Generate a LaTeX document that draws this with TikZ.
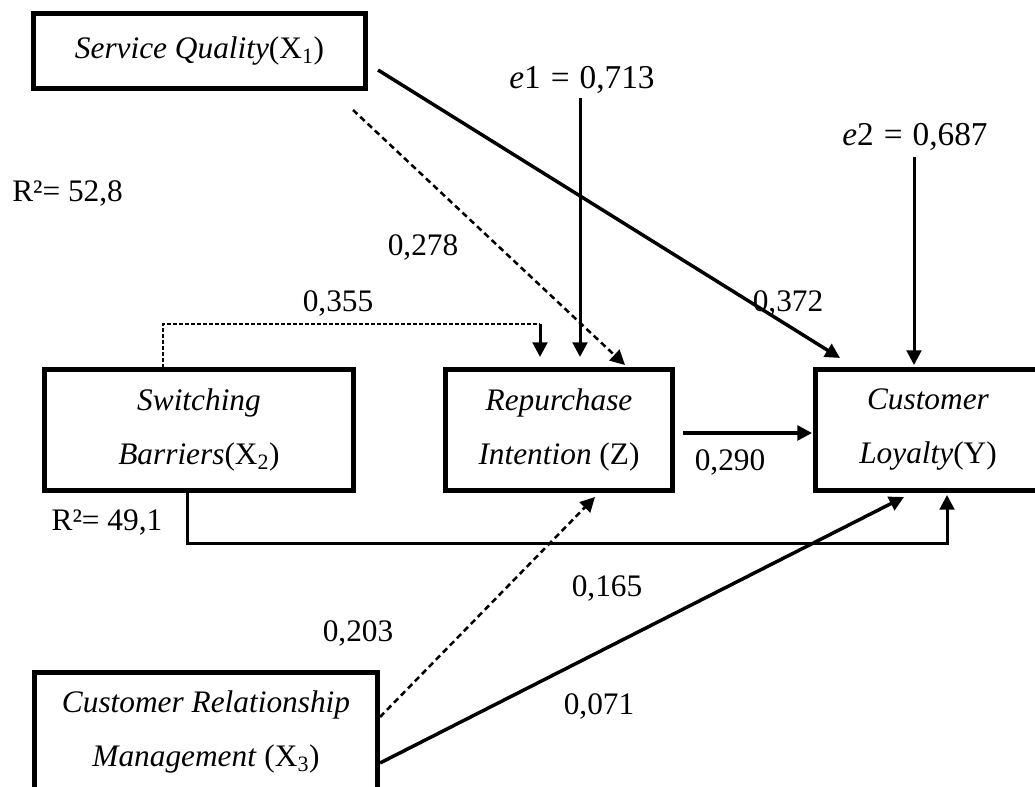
\documentclass[tikz,border=0pt]{standalone}
\usepackage{fontspec}
\setmainfont{Liberation Serif}
\usetikzlibrary{arrows.meta}
\begin{document}
\begin{tikzpicture}[x=0.75pt,y=-0.75pt,
  box/.style={draw, line width=3.75pt, align=center, inner sep=0pt, font=\fontsize{23.5}{40.5}\selectfont},
  lbl/.style={inner sep=0pt, font=\fontsize{23.5}{28}\selectfont},
  elbl/.style={inner sep=0pt, font=\fontsize{25}{30}\selectfont},
  tip/.style={-{Triangle[length=11pt,width=11pt]}},
  con/.style={tip, line width=2.6pt},
  vcon/.style={tip, line width=2.25pt},
  dcon/.style={tip, line width=1.9pt, dash pattern=on 4.5pt off 3pt},
  thindash/.style={line width=0.9pt, dash pattern=on 3pt off 1.5pt},
]
\useasboundingbox (0,0) rectangle (1035,787);
\clip (0,0) rectangle (1035,787);

% boxes
\node[box, minimum width=249pt, minimum height=56.25pt] (sq) at (199.5,51)
  {\textit{Service Quality}(X\textsubscript{1})};
\node[box, minimum width=231.75pt, minimum height=90.75pt] (sb) at (199,430)
  {\textit{Switching}\\\textit{Barriers}(X\textsubscript{2})};
\node[box, minimum width=170.25pt, minimum height=90.75pt] (ri) at (559,430)
  {\textit{Repurchase}\\\textit{Intention} (Z)};
\node[box, minimum width=168.75pt, minimum height=90.75pt] (cl) at (928,430)
  {\textit{Customer}\\\textit{Loyalty}(Y)};
\node[box, minimum width=257.25pt, minimum height=89.25pt] (crm) at (206,732)
  {\textit{Customer Relationship}\\\textit{Management} (X\textsubscript{3})};

% error terms
\node[elbl] (e1) at (582,80) {\textit{e}1\hspace{0.3em}=\hspace{0.3em}0,713};
\node[elbl] (e2) at (915,137) {\textit{e}2\hspace{0.3em}=\hspace{0.3em}0,687};

% labels
\node[lbl, anchor=west] (r1) at (12,193) {R²= 52,8};
\node[lbl] (l278) at (423,247) {0,278};
\node[lbl] (l355) at (338,303) {0,355};
\node[lbl] (l372) at (788,303) {0,372};
\node[lbl] (l290) at (730,462) {0,290};
\node[lbl] (r2) at (107,523) {R²= 49,1};
\node[lbl] (l165) at (607,588) {0,165};
\node[lbl] (l203) at (358,633) {0,203};
\node[lbl] (l071) at (599,706) {0,071};

% connector end points
\coordinate (sqA) at (378,70);
\coordinate (clA) at (840,358);
\coordinate (sqB) at (353,110);
\coordinate (riA) at (625,365);
\coordinate (e1s) at (580,98);
\coordinate (riB) at (580,357);
\coordinate (e2s) at (914,157);
\coordinate (clB) at (914,365);
\coordinate (sbA) at (163,368);
\coordinate (mA) at (163,324);
\coordinate (mB) at (540,324);
\coordinate (riC) at (540,357);
\coordinate (riD) at (683,433);
\coordinate (clC) at (812,433);
\coordinate (sbB) at (187,492);
\coordinate (bA) at (187,543);
\coordinate (clD) at (947,495);
\coordinate (crmA) at (380,717);
\coordinate (riE) at (595,497);
\coordinate (crmB) at (380,763);
\coordinate (clE) at (904,497);

% connectors
\draw[con] (sqA) -- (clA);
\draw[dcon] (sqB) -- (riA);
\draw[vcon] (e1s) -- (riB);
\draw[vcon] (e2s) -- (clB);
\draw[thindash] (sbA) -- (mA) -- (mB);
\draw[vcon] (mB) -- (riC);
\draw[con] (riD) -- (clC);
\draw[vcon] (sbB) -- (bA) -| (clD);
\draw[dcon] (crmA) -- (riE);
\draw[con] (crmB) -- (clE);
\end{tikzpicture}
\end{document}
